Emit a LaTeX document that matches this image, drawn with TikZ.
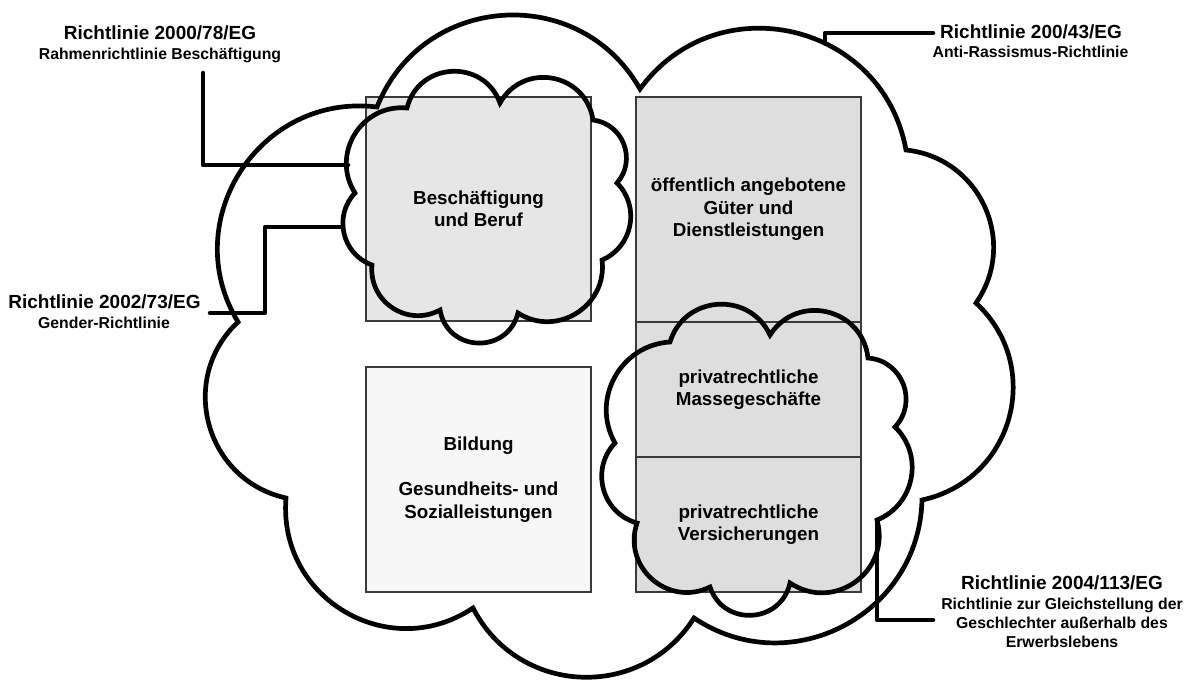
\documentclass[tikz,border=0pt]{standalone}
\usepackage{fontspec}
\setmainfont{Liberation Sans}
\definecolor{boxA}{HTML}{E6E6E6}
\definecolor{boxB}{HTML}{DEDEDE}
\definecolor{boxC}{HTML}{F7F7F7}
\definecolor{edgegray}{HTML}{3A3A3A}
\begin{document}
\begin{tikzpicture}[x=1pt,y=-1pt,
  cloudline/.style={draw=black,line width=4.7pt,line join=miter,miter limit=6},
  conn/.style={draw=black,line width=4.5pt,line cap=round,line join=round},
  area/.style={draw=edgegray,line width=1.4pt,inner sep=0pt,outer sep=0pt,align=center,
    font=\bfseries\fontsize{18.8}{22.5}\selectfont,text=black},
  ttl/.style={anchor=base,inner sep=0pt,font=\bfseries\fontsize{19}{22}\selectfont},
  subl/.style={anchor=base,inner sep=0pt,font=\bfseries\fontsize{15.8}{19}\selectfont}]

\useasboundingbox (0,0) rectangle (1184,680);
\fill[white] (0,0) rectangle (1184,680);

% ---------- boxes ----------
\node[area,fill=boxA,minimum width=225pt,minimum height=224pt] (beruf) at (478.5,209) {Beschäftigung\\und Beruf};
\node[area,fill=boxB,minimum width=225pt,minimum height=225pt] (gueter) at (748.5,209.5) {öffentlich angebotene\\Güter und\\Dienstleistungen};
\node[area,fill=boxB,minimum width=225pt,minimum height=135pt] (masse) at (748.5,389.5) {privatrechtliche\\Massegeschäfte};
\node[area,fill=boxB,minimum width=225pt,minimum height=135pt] (vers) at (748.5,524.5) {privatrechtliche\\Versicherungen};
\node[area,fill=boxC,minimum width=225pt,minimum height=225pt] (bild) at (478.5,479.5) {Bildung\\[22.5pt]Gesundheits- und\\Sozialleistungen};

% ---------- big cloud ----------
\coordinate (B1) at (377,107);
\coordinate (B2) at (640,89);
\coordinate (B3) at (906,150);
\coordinate (B4) at (976,303);
\coordinate (B5) at (922,500);
\coordinate (B6) at (694,618);
\coordinate (B7) at (473,608);
\coordinate (B8) at (286,498);
\coordinate (B9) at (238,322);
\draw[cloudline] (B1)
  to[out=64.4,in=115.6,relative,looseness=1.19] (B2)
  to[out=66.8,in=113.2,relative,looseness=1.22] (B3)
  to[out=59.4,in=120.6,relative,looseness=1.13] (B4)
  to[out=62.5,in=117.5,relative,looseness=1.17] (B5)
  to[out=61.2,in=118.8,relative,looseness=1.15] (B6)
  to[out=60.2,in=119.8,relative,looseness=1.14] (B7)
  to[out=64.2,in=115.8,relative,looseness=1.19] (B8)
  to[out=62.2,in=117.8,relative,looseness=1.16] (B9)
  to[out=64.0,in=116.0,relative,looseness=1.18] (B1) -- cycle;

% ---------- small cloud 1 ----------
\coordinate (S1) at (407,108);
\coordinate (S2) at (500,103);
\coordinate (S3) at (593,120);
\coordinate (S4) at (617,183);
\coordinate (S5) at (602,260);
\coordinate (S6) at (518,313);
\coordinate (S7) at (440,310);
\coordinate (S8) at (372,265);
\coordinate (S9) at (355,193);
\draw[cloudline] (S1)
  to[out=73,in=107,relative,looseness=1.31] (S2)
  to[out=71,in=109,relative,looseness=1.29] (S3)
  to[out=62,in=118,relative,looseness=1.16] (S4)
  to[out=56,in=124,relative,looseness=1.09] (S5)
  to[out=65,in=115,relative,looseness=1.19] (S6)
  to[out=78,in=102,relative,looseness=1.41] (S7)
  to[out=62,in=118,relative,looseness=1.16] (S8)
  to[out=57,in=123,relative,looseness=1.10] (S9)
  to[out=64,in=116,relative,looseness=1.18] (S1) -- cycle;

% ---------- small cloud 2 ----------
\coordinate (T1) at (670,342);
\coordinate (T2) at (770,335);
\coordinate (T3) at (868,358);
\coordinate (T4) at (895,427);
\coordinate (T5) at (877,520);
\coordinate (T6) at (790,583);
\coordinate (T7) at (710,587);
\coordinate (T8) at (637,523);
\coordinate (T9) at (615,443);
\draw[cloudline] (T1)
  to[out=69,in=111,relative,looseness=1.25] (T2)
  to[out=70.5,in=109.5,relative,looseness=1.28] (T3)
  to[out=64.5,in=115.5,relative,looseness=1.19] (T4)
  to[out=57,in=123,relative,looseness=1.10] (T5)
  to[out=69.5,in=110.5,relative,looseness=1.27] (T6)
  to[out=74.5,in=105.5,relative,looseness=1.34] (T7)
  to[out=67.5,in=112.5,relative,looseness=1.23] (T8)
  to[out=59,in=121,relative,looseness=1.12] (T9)
  to[out=58,in=122,relative,looseness=1.11] (T1) -- cycle;

% ---------- labels ----------
\node[ttl]  (r1t) at (160,39) {Richtlinie 2000/78/EG};
\node[subl] (r1s) at (160,59) {Rahmenrichtlinie Beschäftigung};
\node[ttl]  (r2t) at (1031,38) {Richtlinie 200/43/EG};
\node[subl] (r2s) at (1030.5,57) {Anti-Rassismus-Richtlinie};
\node[ttl]  (r3t) at (104.5,308) {Richtlinie 2002/73/EG};
\node[subl] (r3s) at (104,328) {Gender-Richtlinie};
\node[ttl]  (r4t) at (1062,589) {Richtlinie 2004/113/EG};
\node[subl] (r4a) at (1062,609) {Richtlinie zur Gleichstellung der};
\node[subl] (r4b) at (1062,628) {Geschlechter außerhalb des};
\node[subl] (r4c) at (1062,647) {Erwerbslebens};

% ---------- connectors ----------
\coordinate (c1s) at (203,73);
\coordinate (c1e) at (348,165);
\draw[conn] (c1s) |- (c1e);

\coordinate (c2s) at (210,313);
\coordinate (c2k) at (265,313);
\coordinate (c2e) at (343,227);
\draw[conn] (c2s) -- (c2k) |- (c2e);

\coordinate (c3s) at (933,33);
\coordinate (c3e) at (825,43);
\draw[conn] (c3s) -| (c3e);

\coordinate (c4e) at (933,620);
\draw[conn] (T5) |- (c4e);
\end{tikzpicture}
\end{document}
